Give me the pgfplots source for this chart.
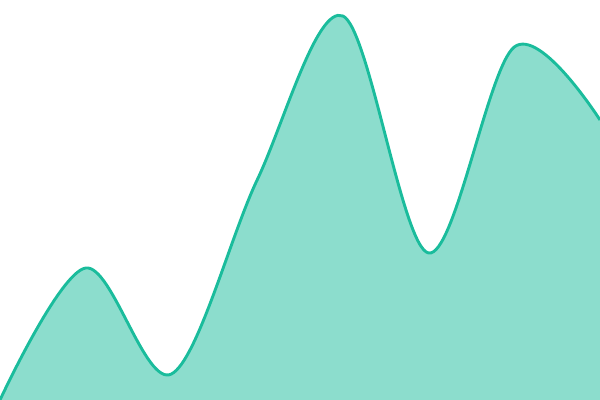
\documentclass[border=0pt]{standalone}
\usepackage{pgfplots}
\pgfplotsset{compat=1.18}
\definecolor{teal1}{HTML}{1ABC9C}
\begin{document}
\begin{tikzpicture}
\begin{axis}[
	scale only axis,
	width=6in, height=4in,
	xmin=0, xmax=7,
	ymin=0, ymax=400,
	hide axis,
	clip=true,
]
% area under the curve, no outline
\addplot[smooth, tension=0.55, draw=none, fill=teal1, fill opacity=0.5]
	coordinates { (0,0) (1,132) (2,26) (3,220) (4,384) (5,147) (6,353) (7,280) } \closedcycle;
% the curve itself
\addplot[smooth, tension=0.55, draw=teal1, line width=2.1pt]
	coordinates { (0,0) (1,132) (2,26) (3,220) (4,384) (5,147) (6,353) (7,280) };
\end{axis}
\pgfresetboundingbox
\useasboundingbox (current axis.south west) rectangle (current axis.north east);
\end{tikzpicture}
\end{document}
